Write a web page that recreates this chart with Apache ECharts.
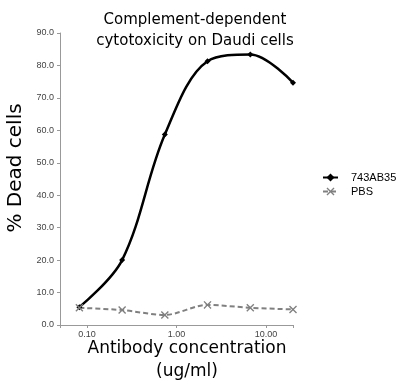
<!DOCTYPE html>
<html>
<head>
<meta charset="utf-8">
<script src="https://cdn.jsdelivr.net/npm/echarts@6/dist/echarts.min.js"></script>
<style>html,body{margin:0;padding:0;background:#fff}#c{width:401px;height:384px}</style>
</head>
<body>
<div id="c"></div>
<script>
var concentrations = [0.0823, 0.247, 0.741, 2.22, 6.67, 20];
var ab743 = [5.5, 20.0, 58.7, 81.3, 83.4, 74.7];
var pbs = [5.3, 4.6, 3.1, 6.2, 5.3, 4.8];
var xTickLabels = [0.1, 1, 10];
var yTicks = [0, 10, 20, 30, 40, 50, 60, 70, 80, 90];

function pairs(xs, ys) { return xs.map(function (x, i) { return [x, ys[i]]; }); }
var xMark = 'path://M0,1.2L1.2,0L5,3.8L8.8,0L10,1.2L6.2,5L10,8.8L8.8,10L5,6.2L1.2,10L0,8.8L3.8,5Z';

var chart = echarts.init(document.getElementById('c'), null, {renderer: 'canvas'});
chart.setOption({
  animation: false,
  backgroundColor: '#fff',
  title: {
    text: 'Complement-dependent\ncytotoxicity on Daudi cells',
    left: 190, top: 5, textAlign: 'center',
    textStyle: {fontFamily: 'DejaVu Sans', fontSize: 15, fontWeight: 'normal', color: '#000', lineHeight: 21}
  },
  legend: {
    orient: 'vertical', left: 317, top: 167, itemGap: 3,
    itemWidth: 15, itemHeight: 10,
    textStyle: {fontFamily: 'Liberation Sans', fontSize: 11, color: '#000', padding: [0, 0, 0, 8]},
    data: ['743AB35', 'PBS']
  },
  grid: {left: 60, right: 108, top: 33, bottom: 59, containLabel: false, outerBoundsMode: 'none'},
  xAxis: {
    type: 'log', logBase: 10, min: 0.05, max: 20,
    name: 'Antibody concentration\n(ug/ml)', nameLocation: 'middle', nameGap: 12, nameMoveOverlap: false,
    nameTextStyle: {fontFamily: 'DejaVu Sans', fontSize: 17, color: '#000', lineHeight: 23, padding: [0, 0, 0, 21]},
    axisLine: {lineStyle: {color: '#999', width: 1}},
    axisTick: {show: true, length: 3, lineStyle: {color: '#999'}},
    splitLine: {show: false},
    axisLabel: {
      fontFamily: 'Liberation Sans', fontSize: 9, color: '#444', margin: 5,
      formatter: function (v) {
        for (var i = 0; i < xTickLabels.length; i++) {
          if (Math.abs(v - xTickLabels[i]) < 1e-6 * xTickLabels[i]) return xTickLabels[i].toFixed(2);
        }
        return '';
      }
    }
  },
  yAxis: {
    type: 'value', min: yTicks[0], max: yTicks[yTicks.length - 1], interval: yTicks[1] - yTicks[0],
    name: '% Dead cells', nameLocation: 'middle', nameGap: 34, nameMoveOverlap: false,
    nameTextStyle: {fontFamily: 'DejaVu Sans', fontSize: 20, color: '#000', padding: [0, 0, 0, 22]},
    axisLine: {show: true, lineStyle: {color: '#999', width: 1}},
    axisTick: {show: true, length: 3, lineStyle: {color: '#999'}},
    splitLine: {show: false},
    axisLabel: {fontFamily: 'Liberation Sans', fontSize: 9, color: '#444', margin: 6,
      formatter: function (v) { return v.toFixed(1); }}
  },
  series: [
    {
      name: '743AB35', type: 'line', smooth: 0.35,
      data: pairs(concentrations, ab743),
      symbol: 'diamond', symbolSize: 6,
      lineStyle: {color: '#000', width: 2.5},
      itemStyle: {color: '#000'}
    },
    {
      name: 'PBS', type: 'line', smooth: 0.3,
      data: pairs(concentrations, pbs),
      symbol: xMark, symbolSize: 8,
      lineStyle: {color: '#808080', width: 2, type: [5, 3]},
      itemStyle: {color: '#808080'}
    }
  ]
});
</script>
</body>
</html>
